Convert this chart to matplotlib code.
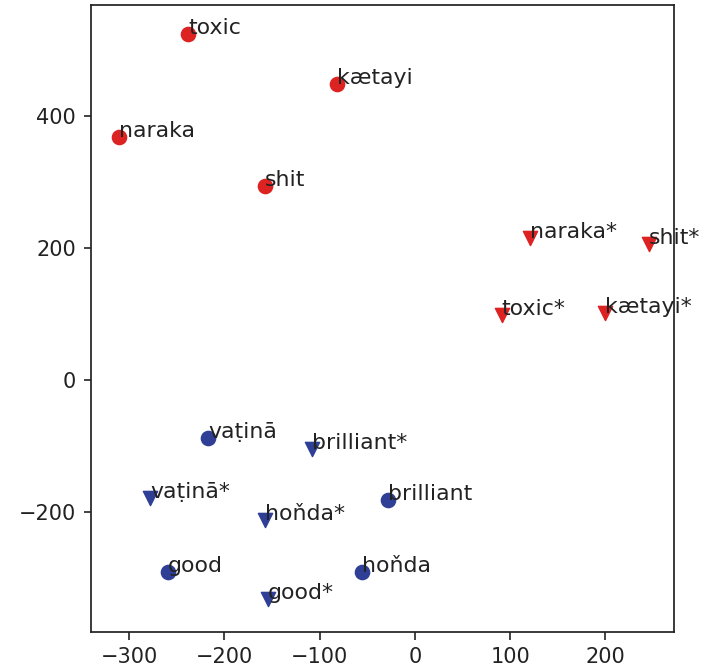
import matplotlib
matplotlib.use("Agg")
import matplotlib.pyplot as plt

red_circle_labels = ["toxic", "kætayi", "naraka", "shit"]
red_circle_x = [-238, -82, -311, -157]
red_circle_y = [524, 448, 368, 294]

red_tri_labels = ["naraka*", "shit*", "toxic*", "kætayi*"]
red_tri_x = [121, 246, 91, 200]
red_tri_y = [214, 206, 98, 101]

blue_circle_labels = ["vaṭinā", "brilliant", "good", "hoňda"]
blue_circle_x = [-217, -28, -259, -55]
blue_circle_y = [-89, -183, -291, -291]

blue_tri_labels = ["brilliant*", "vaṭinā*", "hoňda*", "good*"]
blue_tri_x = [-108, -278, -157, -154]
blue_tri_y = [-105, -179, -212, -333]

RED = "#dd2222"
BLUE = "#2f3f95"

fig = plt.figure(figsize=(7.02, 6.71), dpi=100)
ax = fig.add_axes([0.1296, 0.0586, 0.8305, 0.934])

groups = [
    (red_circle_labels, red_circle_x, red_circle_y, RED, "o"),
    (red_tri_labels, red_tri_x, red_tri_y, RED, "v"),
    (blue_circle_labels, blue_circle_x, blue_circle_y, BLUE, "o"),
    (blue_tri_labels, blue_tri_x, blue_tri_y, BLUE, "v"),
]
for labels, xs, ys, c, m in groups:
    ax.scatter(xs, ys, c=c, marker=m, s=105, zorder=2)
    for lab, x, y in zip(labels, xs, ys):
        ax.annotate(lab, (x, y), fontsize=15.8, color="#222222", zorder=3,
                    annotation_clip=False)

ax.set_xlim(-340, 272)
ax.set_ylim(-382, 568)
ax.set_xticks([-300, -200, -100, 0, 100, 200])
ax.set_yticks([-200, 0, 200, 400])
ax.tick_params(labelsize=15, length=5.4, width=1.2, pad=5.4, colors="#222222")
for sp in ax.spines.values():
    sp.set_linewidth(1.25)
    sp.set_color("#222222")

fig.savefig("out.png", dpi=100)
